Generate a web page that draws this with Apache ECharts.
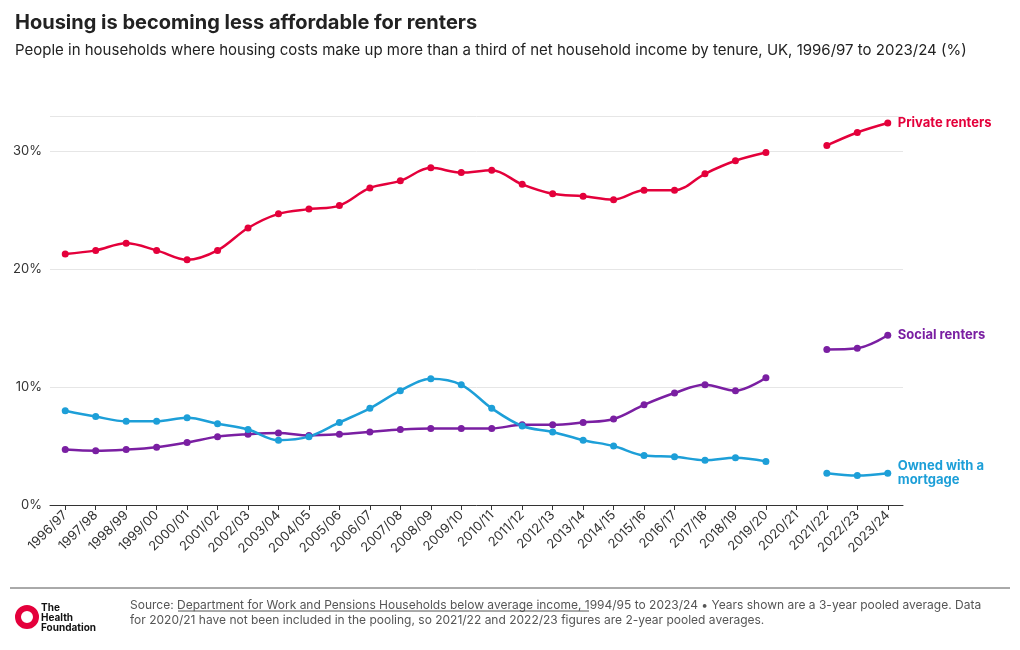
<!DOCTYPE html>
<html>
<head>
<meta charset="utf-8">
<script src="https://cdn.jsdelivr.net/npm/echarts@6/dist/echarts.min.js"></script>
<style>html,body{margin:0;padding:0;background:#fff}#main{width:1020px;height:650px}</style>
</head>
<body>
<div id="main"></div>
<script>
var years = ['1996/97','1997/98','1998/99','1999/00','2000/01','2001/02','2002/03','2003/04','2004/05','2005/06','2006/07','2007/08','2008/09','2009/10','2010/11','2011/12','2012/13','2013/14','2014/15','2015/16','2016/17','2017/18','2018/19','2019/20','2020/21','2021/22','2022/23','2023/24'];
var privateRenters = [21.3,21.6,22.2,21.6,20.8,21.6,23.5,24.7,25.1,25.4,26.9,27.5,28.6,28.2,28.4,27.2,26.4,26.2,25.9,26.7,26.7,28.1,29.2,29.9,null,30.5,31.6,32.4];
var socialRenters = [4.7,4.6,4.7,4.9,5.3,5.8,6.0,6.1,5.9,6.0,6.2,6.4,6.5,6.5,6.5,6.8,6.8,7.0,7.3,8.5,9.5,10.2,9.7,10.8,null,13.2,13.3,14.4];
var mortgage = [8.0,7.5,7.1,7.1,7.4,6.9,6.4,5.5,5.8,7.0,8.2,9.7,10.7,10.2,8.2,6.7,6.2,5.5,5.0,4.2,4.1,3.8,4.0,3.7,null,2.7,2.5,2.7];

var font = 'Inter, "Noto Sans", sans-serif';
var chart = echarts.init(document.getElementById('main'));

function makeSeries(name, data, color, label) {
    return {
        name: name,
        type: 'line',
        data: data,
        smooth: 0.35,
        connectNulls: false,
        symbol: 'circle',
        symbolSize: 7,
        lineStyle: {color: color, width: 2.5},
        itemStyle: {color: color},
        endLabel: {
            show: true,
            formatter: label,
            color: color,
            fontFamily: font,
            fontWeight: 'bold',
            fontSize: 13,
            lineHeight: 14,
            distance: 10
        }
    };
}

chart.setOption({
    animation: false,
    title: {
        text: 'Housing is becoming less affordable for renters',
        subtext: 'People in households where housing costs make up more than a third of net household income by tenure, UK, 1996/97 to 2023/24 (%)',
        left: 10, top: 8,
        itemGap: 10,
        textStyle: {fontFamily: font, fontSize: 20, fontWeight: 'bold', color: '#222'},
        subtextStyle: {fontFamily: font, fontSize: 15, color: '#222'}
    },
    grid: {left: 50, right: 117, top: 116, bottom: 145},
    xAxis: {
        type: 'category',
        data: years,
        boundaryGap: ['1.5%', '1.5%'],
        axisLine: {lineStyle: {color: '#333'}},
        axisTick: {show: true, alignWithLabel: true, lineStyle: {color: '#333'}},
        axisLabel: {rotate: 45, interval: 0, color: '#333', fontFamily: font, fontSize: 13}
    },
    yAxis: {
        type: 'value',
        min: 0, max: 33, interval: 10,
        axisLabel: {formatter: '{value}%', color: '#333', fontFamily: font, fontSize: 13,
            showMaxLabel: false},
        splitLine: {lineStyle: {color: '#e6e6e6'}}
    },
    series: [
        makeSeries('Private renters', privateRenters, '#e4003b', 'Private renters'),
        makeSeries('Social renters', socialRenters, '#7a1fa2', 'Social renters'),
        makeSeries('Owned with a mortgage', mortgage, '#1d9fd8', 'Owned with a\nmortgage')
    ],
    graphic: [
        {type: 'line', shape: {x1: 10, y1: 588, x2: 1010, y2: 588}, style: {stroke: '#555', lineWidth: 1}},
        {type: 'circle', shape: {cx: 27, cy: 617, r: 9}, style: {fill: 'none', stroke: '#e4003b', lineWidth: 6}},
        {type: 'text', left: 41, top: 603, style: {text: 'The\nHealth\nFoundation', fontFamily: font, fontSize: 10, fontWeight: 'bold', lineHeight: 10, fill: '#111'}},
        {type: 'text', left: 130, top: 598, style: {
            text: 'Source: Department for Work and Pensions Households below average income, 1994/95 to 2023/24 • Years shown are a 3-year pooled average. Data\nfor 2020/21 have not been included in the pooling, so 2021/22 and 2022/23 figures are 2-year pooled averages.',
            fontFamily: font, fontSize: 12, lineHeight: 15, fill: '#555'
        }},
        {type: 'line', shape: {x1: 178, y1: 611, x2: 589, y2: 611}, style: {stroke: '#555', lineWidth: 1}}
    ]
});
</script>
</body>
</html>
